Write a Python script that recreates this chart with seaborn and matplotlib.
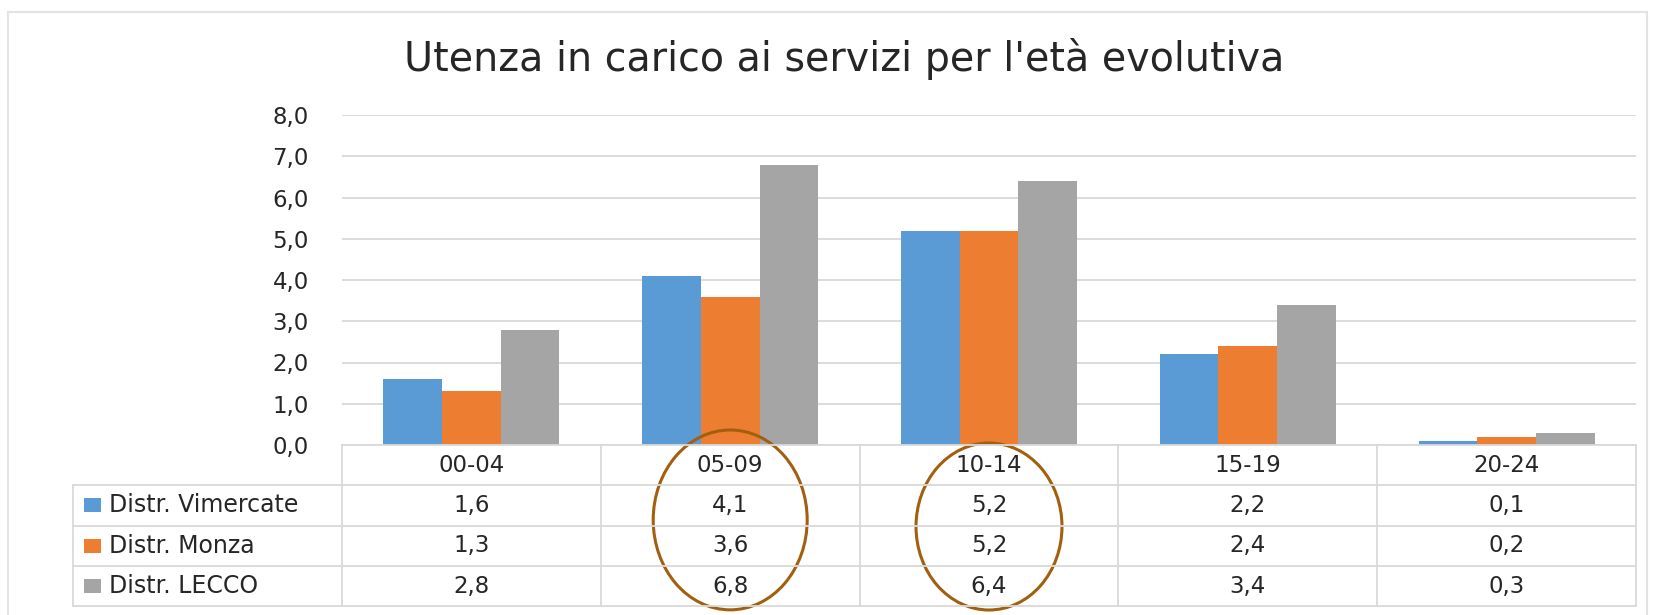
import matplotlib
matplotlib.use("Agg")
import matplotlib.pyplot as plt
import seaborn as sns
import pandas as pd
from matplotlib.patches import Rectangle, Ellipse
from matplotlib.lines import Line2D
from matplotlib.transforms import blended_transform_factory

# ---- data ----
categories = ["00-04", "05-09", "10-14", "15-19", "20-24"]
series_names = ["Distr. Vimercate", "Distr. Monza", "Distr. LECCO"]
vimercate = [1.6, 4.1, 5.2, 2.2, 0.1]
monza = [1.3, 3.6, 5.2, 2.4, 0.2]
lecco = [2.8, 6.8, 6.4, 3.4, 0.3]
y_ticks = [0, 1, 2, 3, 4, 5, 6, 7, 8]
title = "Utenza in carico ai servizi per l'età evolutiva"
highlighted = ["05-09", "10-14"]

colors = ["#5B9BD5", "#ED7D31", "#A5A5A5"]
text_color = "#262626"
grid_color = "#D9D9D9"
ellipse_color = "#A35F10"

series_values = [vimercate, monza, lecco]
df = pd.DataFrame({
    "cat": [c for _ in series_names for c in categories],
    "val": [v for vals in series_values for v in vals],
    "series": [s for s in series_names for _ in categories],
})

sns.set_theme(style="white")
plt.rcParams["font.family"] = ["DejaVu Sans"]

W, H = 1656, 615
fig = plt.figure(figsize=(W / 100, H / 100), dpi=100)
ax = fig.add_axes([342 / W, 1 - 445 / H, 1294 / W, 330 / H])

sns.barplot(data=df, x="cat", y="val", hue="series", order=categories,
            hue_order=series_names, palette=colors, width=0.68,
            saturation=1, ax=ax, legend=False, linewidth=0, edgecolor="none")

ax.set_xlim(-0.5, len(categories) - 0.5)
ax.set_ylim(0, 8)
ax.set_yticks(y_ticks)
ax.set_yticklabels([f"{t:.1f}".replace(".", ",") for t in y_ticks],
                   fontsize=16.5, color=text_color)
ax.tick_params(axis="y", length=0, pad=24)
ax.set_xticks([])
ax.set_xlabel("")
ax.set_ylabel("")
ax.yaxis.grid(True, color=grid_color, linewidth=1.3)
ax.set_axisbelow(True)
for s in ["top", "right", "left"]:
    ax.spines[s].set_visible(False)
ax.spines["bottom"].set_color(grid_color)
ax.spines["bottom"].set_linewidth(1.3)

# ---- data table under the chart ----
row_h = 40.3 / 330
n_rows = len(series_names)
table_bottom = -row_h * (n_rows + 1)
legend_left = (73 - 342) / 1294
tr = ax.transAxes
lkw = dict(color=grid_color, linewidth=1.3, transform=tr, clip_on=False)

for i in range(len(categories) + 1):
    x = i / len(categories)
    ax.add_line(Line2D([x, x], [0, table_bottom], **lkw))
for r in range(1, n_rows + 2):
    y = -row_h * r
    ax.add_line(Line2D([legend_left, 1], [y, y], **lkw))
ax.add_line(Line2D([legend_left, legend_left], [-row_h, table_bottom], **lkw))

for i, c in enumerate(categories):
    ax.text((i + 0.5) / len(categories), -row_h * 0.5, c, transform=tr,
            ha="center", va="center", fontsize=16.5, color=text_color)

sq_w = 17 / 1294
sq_h = 14 / 330
for r, (name, vals, col) in enumerate(zip(series_names, series_values, colors)):
    yc = -row_h * (r + 1.5)
    ax.add_patch(Rectangle(((84 - 342) / 1294, yc - sq_h / 2), sq_w, sq_h,
                           facecolor=col, edgecolor="none", transform=tr,
                           clip_on=False))
    ax.text((109 - 342) / 1294, yc, name, transform=tr, ha="left", va="center",
            fontsize=17, color=text_color)
    for i, v in enumerate(vals):
        ax.text((i + 0.5) / len(categories), yc, f"{v:.1f}".replace(".", ","),
                transform=tr, ha="center", va="center", fontsize=16.5,
                color=text_color)

# ---- highlight ellipses ----
bt = blended_transform_factory(ax.transData, ax.transAxes)
ell_specs = {"05-09": (0.595, -0.227, 0.545), "10-14": (0.564, -0.247, 0.506)}
for cat in highlighted:
    w, yc, h = ell_specs[cat]
    ax.add_patch(Ellipse((categories.index(cat), yc), w, h, transform=bt,
                         fill=False, edgecolor=ellipse_color, linewidth=2.2,
                         clip_on=False))

# ---- title & chart border ----
fig.text(0.51, 1 - 71 / H, title, ha="center", va="baseline",
         fontsize=28.5, color=text_color)
fig.add_artist(Rectangle((8 / W, -0.05), (1647 - 8) / W, 1 - 12 / H + 0.05,
                         transform=fig.transFigure, fill=False,
                         edgecolor="#E3E3E3", linewidth=1.5))

fig.savefig("out.png", dpi=100, facecolor="white")
